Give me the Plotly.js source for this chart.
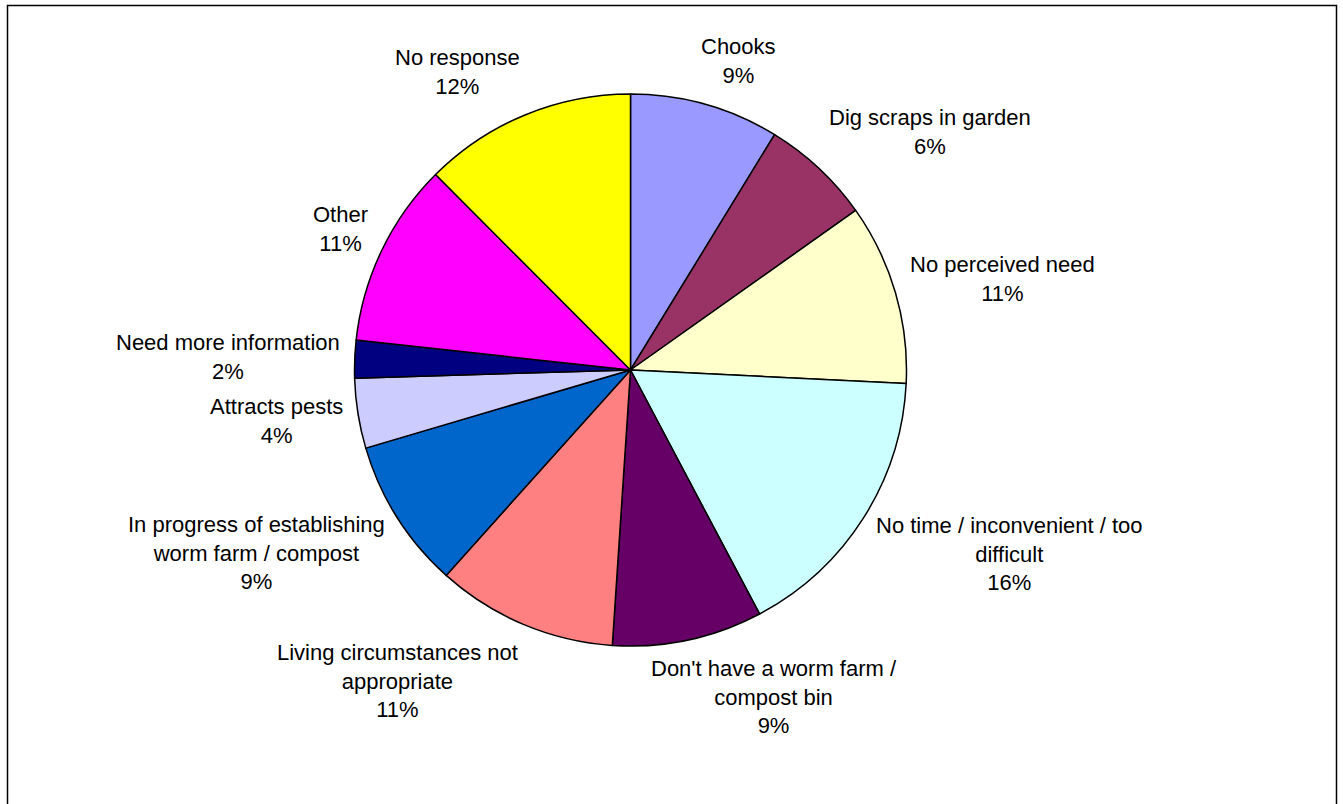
<!DOCTYPE html>
<html>
<head>
<meta charset="utf-8">
<script src="https://cdn.plot.ly/plotly-3.0.1.min.js"></script>
<style>
  html, body { margin: 0; padding: 0; background: #ffffff; }
  #chart { width: 1343px; height: 804px; }
</style>
</head>
<body>
<div id="chart"></div>
<script>
// ---- Data ----
const categories = [
  "Chooks",
  "Dig scraps in garden",
  "No perceived need",
  "No time / inconvenient / too<br>difficult",
  "Don't have a worm farm /<br>compost bin",
  "Living circumstances not<br>appropriate",
  "In progress of establishing<br>worm farm / compost",
  "Attracts pests",
  "Need more information",
  "Other",
  "No response"
];
const shares = [8.75, 6.45, 10.6, 16.49, 8.8, 10.6, 8.8, 4.1, 2.2, 10.8, 12.49];
const sliceColors = [
  "#9999FF", "#993366", "#FFFFCC", "#CCFFFF", "#660066", "#FF8080",
  "#0066CC", "#CCCCFF", "#000080", "#FF00FF", "#FFFF00"
];

// ---- Geometry / style ----
const W = 1343, H = 804;
const cx = 630.5, cy = 370, R = 276;
const FONT_SIZE = 22;
const FONT_FAMILY = '"Liberation Sans", Arial, Helvetica, sans-serif';
const LINE_H = FONT_SIZE * 1.3;
const GAP = 15;

const total = shares.reduce((a, b) => a + b, 0);

// measure text widths
const cv = document.createElement('canvas');
const ctx = cv.getContext('2d');
ctx.font = FONT_SIZE + 'px "Liberation Sans"';

const annotations = [];
let cum = 0;
shares.forEach((v, i) => {
  const mid = (cum + v / 2) / total;
  cum += v;
  const th = 2 * Math.PI * mid;
  const s = Math.sin(th), c = Math.cos(th);
  const pct = Math.round(v / total * 100) + '%';
  const text = categories[i] + '<br>' + pct;
  const lines = text.split('<br>');
  const w = Math.max(...lines.map(l => ctx.measureText(l).width));
  const h = lines.length * LINE_H;
  const px = cx + (R + GAP) * s;
  const py = cy - (R + GAP) * c;
  const sx = Math.sign(s) * Math.min(1, 0.3 + 1.8 * Math.abs(s));
  const sy = -Math.max(-1, Math.min(1, 1.2 * c));
  const lx = px + sx * w / 2;
  const ly = py + sy * h / 2;
  annotations.push({
    xref: 'paper', yref: 'paper',
    x: lx / W, y: 1 - ly / H,
    xanchor: 'center', yanchor: 'middle',
    text: text, showarrow: false, align: 'center',
    font: { family: FONT_FAMILY, size: FONT_SIZE, color: '#000000' }
  });
});

const trace = {
  type: 'pie',
  labels: categories,
  values: shares,
  sort: false,
  direction: 'clockwise',
  rotation: 0,
  textinfo: 'none',
  hoverinfo: 'label+percent',
  marker: { colors: sliceColors, line: { color: '#000000', width: 1.5 } },
  domain: {
    x: [(cx - R) / W, (cx + R) / W],
    y: [1 - (cy + R) / H, 1 - (cy - R) / H]
  }
};

const layout = {
  width: W, height: H,
  margin: { l: 0, r: 0, t: 0, b: 0 },
  paper_bgcolor: '#ffffff',
  showlegend: false,
  font: { family: FONT_FAMILY, size: FONT_SIZE, color: '#000000' },
  annotations: annotations,
  shapes: [{
    type: 'rect', xref: 'paper', yref: 'paper',
    x0: 7.5 / W, x1: 1336.5 / W, y0: -0.05, y1: 1 - 5.5 / H,
    line: { color: '#000000', width: 1.5 }, fillcolor: 'rgba(0,0,0,0)'
  }]
};

Plotly.newPlot('chart', [trace], layout, { staticPlot: true, displayModeBar: false });
</script>
</body>
</html>
